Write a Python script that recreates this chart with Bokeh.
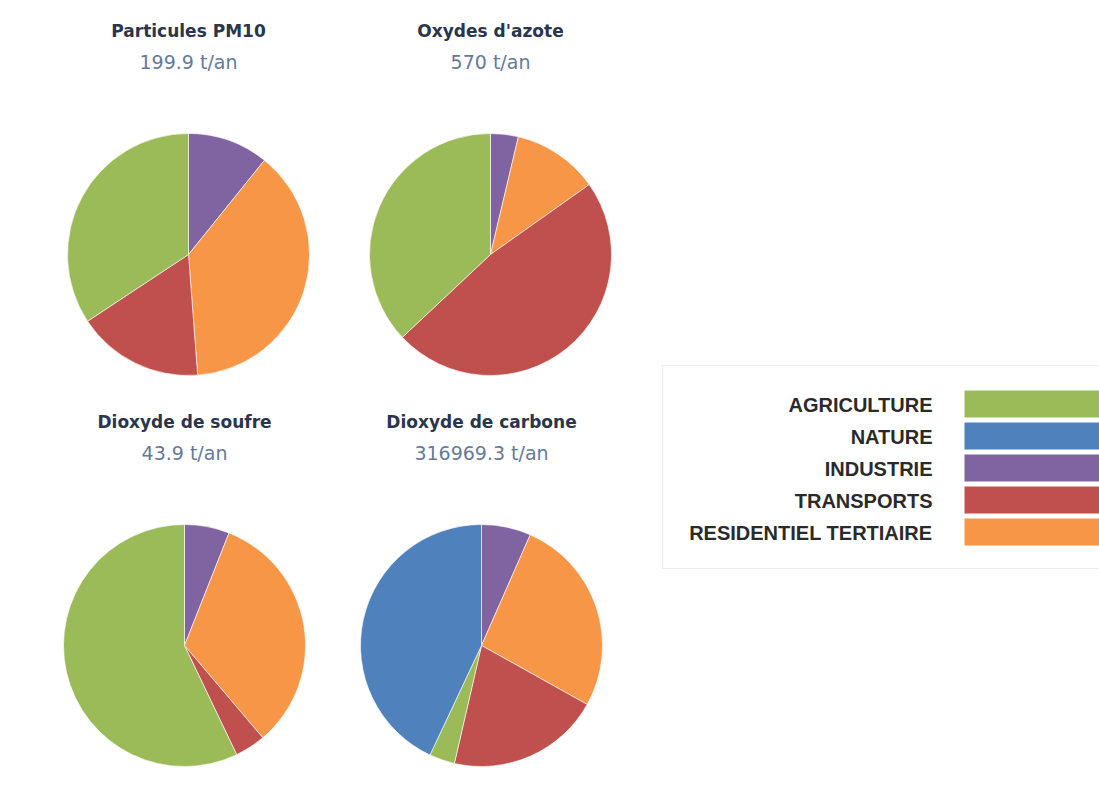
import math
from bokeh.plotting import figure
from bokeh.models import Range1d, ColumnDataSource
from bokeh.core.properties import value
from bokeh.embed import file_html
from bokeh.resources import INLINE

# ---- data ----
categories = ["AGRICULTURE", "NATURE", "INDUSTRIE", "TRANSPORTS", "RESIDENTIEL TERTIAIRE"]
colors = ["#9bbb59", "#4f81bd", "#8064a2", "#c0504d", "#f79646"]
# clockwise order from 12 o'clock used by the pies
pie_order = ["INDUSTRIE", "RESIDENTIEL TERTIAIRE", "TRANSPORTS", "AGRICULTURE", "NATURE"]

titles = ["Particules PM10", "Oxydes d'azote", "Dioxyde de soufre", "Dioxyde de carbone"]
totals = ["199.9 t/an", "570 t/an", "43.9 t/an", "316969.3 t/an"]

# shares in % (AGRICULTURE, NATURE, INDUSTRIE, TRANSPORTS, RESIDENTIEL TERTIAIRE)
pm10_shares = [34.3, 0.0, 10.8, 16.9, 38.0]
nox_shares = [37.0, 0.0, 3.7, 47.8, 11.5]
so2_shares = [57.1, 0.0, 6.0, 4.1, 32.8]
co2_shares = [3.4, 43.0, 6.6, 20.5, 26.5]
all_shares = [pm10_shares, nox_shares, so2_shares, co2_shares]

# ---- layout ----
W, H = 1099, 801
OFF = 0


def X(sx):
    return sx - OFF


def Y(sy):
    return H - (sy - OFF)


p = figure(width=W, height=H, output_backend="svg", toolbar_location=None,
           x_range=Range1d(0, W), y_range=Range1d(0, H), min_border=0)
p.axis.visible = False
p.grid.visible = False
p.outline_line_color = None
p.background_fill_color = "white"

centers = [(188, 254), (490, 254), (184, 645), (481, 645)]
radius = 121

for (cx, cy), shares, title, total in zip(centers, all_shares, titles, totals):
    tot = sum(shares)
    starts, ends, cols = [], [], []
    cum = 0.0
    for name in pie_order:
        i = categories.index(name)
        v = shares[i]
        if v <= 0:
            continue
        a0 = math.pi / 2 - 2 * math.pi * (cum + v) / tot
        a1 = math.pi / 2 - 2 * math.pi * cum / tot
        starts.append(a0)
        ends.append(a1)
        cols.append(colors[i])
        cum += v
    src = ColumnDataSource(dict(x=[X(cx)] * len(starts), y=[Y(cy)] * len(starts),
                                start=starts, end=ends, color=cols))
    p.wedge(x="x", y="y", radius=radius, radius_units="screen",
            start_angle="start", end_angle="end", fill_color="color",
            line_color="white", line_width=1, line_alpha=0.6, source=src)
    # titles
    p.text(x=[X(cx)], y=[Y(cy - 224)], text=[title], text_align="center",
           text_baseline="middle", text_font=value("DejaVu Sans"),
           text_font_style="bold", text_font_size="17px", text_color="#2b354b")
    p.text(x=[X(cx)], y=[Y(cy - 193)], text=[total], text_align="center",
           text_baseline="middle", text_font=value("DejaVu Sans"),
           text_font_size="19px", text_color="#65799a")

# ---- legend box ----
p.quad(left=[X(662)], right=[X(1099)], top=[Y(365)], bottom=[Y(568)],
       fill_color="white", line_color="#ececec", line_width=1)
for k, (cat, col) in enumerate(zip(categories, colors)):
    sy = 404 + 32 * k
    p.quad(left=[X(964)], right=[X(1099)], top=[Y(sy - 14)], bottom=[Y(sy + 13)],
           fill_color=col, line_color=None)
    p.text(x=[X(932)], y=[Y(sy)], text=[cat], text_align="right",
           text_baseline="middle", text_font=value("Liberation Sans"),
           text_font_style="bold", text_font_size="20px", text_color="#2a2a2a")

open("out.html", "w").write(file_html(p, INLINE))
